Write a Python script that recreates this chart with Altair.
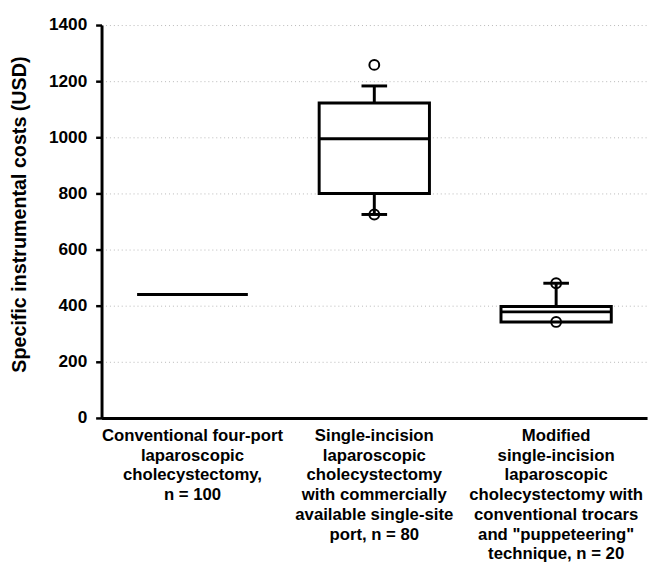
import altair as alt
import pandas as pd

# ---- data ----
categories = [
    "Conventional four-port\nlaparoscopic\ncholecystectomy,\nn = 100",
    "Single-incision\nlaparoscopic\ncholecystectomy\nwith commercially\navailable single-site\nport, n = 80",
    "Modified\nsingle-incision\nlaparoscopic\ncholecystectomy with\nconventional trocars\nand \"puppeteering\"\ntechnique, n = 20",
]
q1 = [440, 800, 342]
median = [440, 995, 378]
q3 = [440, 1122, 397]
whisker_low = [440, 725, 342]
whisker_high = [440, 1183, 480]

cap_cat = [categories[1], categories[1], categories[2]]
cap_val = [1183, 725, 480]

outlier_cat = [categories[1], categories[1], categories[2], categories[2]]
outlier_val = [1258, 725, 480, 342]

y_ticks = [0, 200, 400, 600, 800, 1000, 1200, 1400]

FONT = "Liberation Sans"

box_df = pd.DataFrame({
    "cat": categories, "q1": q1, "median": median, "q3": q3,
    "lo": whisker_low, "hi": whisker_high,
})
cap_df = pd.DataFrame({"cat": cap_cat, "v": cap_val})
out_df = pd.DataFrame({"cat": outlier_cat, "v": outlier_val})

x_enc = alt.X(
    "cat:N", sort=categories, title=None,
    scale=alt.Scale(paddingInner=0, paddingOuter=0),
    axis=alt.Axis(
        labelAngle=0, ticks=False, labelExpr="split(datum.label, '\\n')",
        labelFont=FONT, labelFontWeight="bold", labelFontSize=17,
        labelColor="black", labelLineHeight=20, labelPadding=10,
        labelLimit=300, domainColor="black", domainWidth=3, grid=False,
        labelBaseline="top",
    ),
)
y_scale = alt.Scale(domain=[0, 1400], nice=False)
y_axis = alt.Axis(
    values=y_ticks, format="d", title="Specific instrumental costs (USD)",
    titleFont=FONT, titleFontWeight="bold", titleFontSize=20, titleColor="black",
    titlePadding=19, titleY=192,
    labelFont=FONT, labelFontWeight="bold", labelFontSize=17.5, labelColor="black",
    labelPadding=9,
    domainColor="black", domainWidth=3, tickColor="black", tickWidth=2.5, tickSize=6,
    grid=True, gridColor="#b8b8b8", gridDash=[1, 3], gridWidth=1,
)

base = alt.Chart(box_df)

whisk_up = base.mark_rule(color="black", strokeWidth=3, opacity=1).encode(
    x=x_enc, y=alt.Y("q3:Q", scale=y_scale, axis=y_axis), y2="hi:Q")
whisk_dn = base.mark_rule(color="black", strokeWidth=3, opacity=1).encode(
    x=alt.X("cat:N", sort=categories), y=alt.Y("lo:Q"), y2="q1:Q")
box = base.mark_bar(size=112, fill="white", stroke="black", strokeWidth=3,
                    opacity=1).encode(
    x=alt.X("cat:N", sort=categories), y=alt.Y("q1:Q"), y2="q3:Q")
med = base.mark_tick(size=112, thickness=3, color="black", opacity=1).encode(
    x=alt.X("cat:N", sort=categories), y=alt.Y("median:Q"))
caps = alt.Chart(cap_df).mark_tick(size=26, thickness=3, color="black",
                                   opacity=1).encode(
    x=alt.X("cat:N", sort=categories), y=alt.Y("v:Q"))
outs = alt.Chart(out_df).mark_point(
    shape="circle", filled=False, size=100, stroke="black", strokeWidth=2, opacity=1
).encode(x=alt.X("cat:N", sort=categories), y=alt.Y("v:Q"))

chart = alt.layer(whisk_up, whisk_dn, box, med, caps, outs).properties(
    width=554, height=399,
    autosize=alt.AutoSizeParams(type="none"),
    padding={"left": 95, "top": 13, "right": 4, "bottom": 143},
    background="white",
).configure_view(stroke=None)

chart.save("out.html", embed_options={"renderer": "svg", "actions": False})
